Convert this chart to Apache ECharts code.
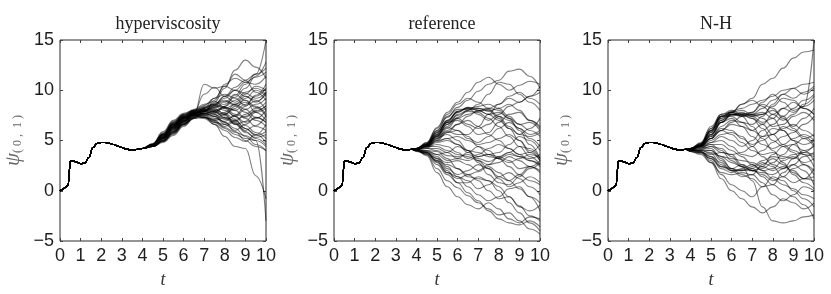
<!DOCTYPE html>
<html><head><meta charset="utf-8">
<script src="https://cdn.jsdelivr.net/npm/echarts@6/dist/echarts.min.js"></script>
<style>html,body{margin:0;padding:0;background:#fff}#c{width:831px;height:294px}</style>
</head><body><div id="c"></div>
<script>
// ---- data ----
const titles = ['hyperviscosity', 'reference', 'N-H'];
const xTicks = [0,1,2,3,4,5,6,7,8,9,10];
const yTicks = [-5,0,5,10,15];
// common early trajectory (all members coincide)
const prefixT = [0,0.1,0.2,0.3,0.4,0.45,0.5,0.6,0.8,1.0,1.2,1.4,1.6,1.8,2.0,2.2,2.4,2.6,2.8,3.0,3.2,3.4,3.6,3.8];
const prefixV = [0,0.1,0.25,0.4,0.6,2.0,2.95,3.0,2.85,2.7,2.75,3.3,4.3,4.7,4.8,4.8,4.72,4.6,4.45,4.3,4.15,4.08,4.08,4.12];
// ensemble tails, sampled at tailT
const tailT = [4,4.5,5,5.5,6,6.5,7,7.5,8,8.5,9,9.5,10];
const hyperTails = [
[4.2,4.5,5.2,6.2,7.0,7.6,8.0,8.5,9.2,10.0,10.8,11.3,11.8],
[4.2,4.6,5.6,6.6,7.4,7.8,7.6,7.0,6.3,5.8,5.5,5.0,4.4],
[4.2,4.4,5.0,5.8,6.7,7.4,8.2,9.2,10.4,11.6,11.0,9.8,9.0],
[4.2,4.7,5.8,6.9,7.6,7.9,7.7,7.4,7.8,8.6,9.0,8.4,7.6],
[4.2,4.5,5.3,6.4,7.3,7.9,8.4,8.6,8.2,7.4,6.5,5.8,5.2],
[4.2,4.6,5.4,6.1,6.9,7.8,9.6,10.3,9.4,8.8,9.6,10.4,10.0],
[4.2,4.4,4.9,5.7,6.6,7.3,7.9,8.8,10.2,12.0,13.0,12.3,11.2],
[4.2,4.5,5.1,6.0,6.9,7.6,7.5,6.9,6.4,6.9,7.6,8.2,8.8],
[4.2,4.6,5.5,6.5,7.2,7.5,7.3,7.0,7.3,7.0,6.2,5.5,5.9],
[4.2,4.5,5.2,6.3,7.2,7.7,8.0,8.3,8.6,9.3,10.2,11.4,12.8],
[4.2,4.7,5.9,7.0,7.7,8.0,7.9,7.4,6.6,6.0,6.6,7.3,6.8],
[4.2,4.4,4.8,5.5,6.4,7.2,7.9,8.5,8.9,8.5,7.8,7.0,6.4],
[4.2,4.5,5.3,6.3,7.0,7.5,7.7,7.9,8.3,8.0,7.2,6.4,6.0],
[4.2,4.6,5.5,6.6,7.4,8.0,8.5,9.2,9.6,9.2,8.5,8.9,9.6],
[4.2,4.5,5.2,6.1,6.8,7.4,7.2,6.6,6.0,5.3,4.9,5.6,6.6],
[4.2,4.6,5.6,6.8,7.6,8.1,8.6,8.9,8.3,7.6,7.3,7.9,8.5],
[4.2,4.4,5.0,5.9,6.7,7.3,7.7,7.4,6.8,6.2,5.4,4.6,4.0],
[4.2,4.5,5.4,6.4,7.3,7.9,8.1,7.9,7.6,8.2,9.2,10.0,9.4],
[4.2,4.6,5.7,6.7,7.4,7.7,7.5,7.7,8.4,9.5,10.6,11.6,12.2],
[4.2,4.5,5.1,5.9,6.8,7.6,8.3,8.0,7.2,6.6,6.9,7.8,8.2],
[4.2,4.4,4.9,5.6,6.5,7.2,7.6,7.9,8.2,8.6,9.4,9.0,8.0],
[4.2,4.6,5.5,6.5,7.3,7.8,7.9,7.6,7.1,7.4,8.1,8.6,9.2],
[4.2,4.5,5.3,6.4,7.3,7.8,8.0,7.6,6.8,5.9,5.0,4.4,4.0],
[4.2,4.6,5.6,6.6,7.2,7.4,7.8,9.0,10.6,11.2,10.8,10.6,11.4],
[4.2,4.5,5.2,6.2,7.1,7.7,8.2,8.7,9.0,8.6,8.1,7.3,6.8],
[4.2,4.4,5.0,5.8,6.6,7.2,7.3,7.1,7.6,8.4,8.8,8.3,7.4],
[4.2,4.6,5.4,6.4,7.2,7.6,7.3,6.8,6.6,7.0,6.2,5.6,4.8],
[4.2,4.5,5.3,6.3,7.1,7.6,7.4,6.6,5.4,4.4,4.2,1.5,-0.8],
[4.2,4.6,5.6,6.7,7.5,8.0,8.3,8.6,9.4,10.3,11.0,11.6,15.0],
[4.2,4.5,5.2,6.0,6.9,7.6,8.0,8.4,8.0,7.4,6.8,7.2,8.0],
[4.2,4.4,5.0,5.9,6.9,7.6,8.0,8.2,7.6,6.6,5.8,5.3,5.6],
[4.2,4.6,5.7,6.8,7.5,7.9,8.2,8.6,9.4,10.0,9.7,9.2,9.8],
[4.2,4.5,5.4,6.5,7.3,7.8,7.7,7.2,6.9,7.5,8.4,9.5,10.6],
[4.2,4.5,5.2,6.2,7.0,7.5,7.9,8.3,8.8,9.6,9.0,7.8,7.0],
[4.2,4.6,5.5,6.6,7.5,8.0,8.1,7.8,7.3,6.7,6.0,6.5,7.5],
[4.2,4.4,4.9,5.7,6.6,7.3,7.7,8.0,8.4,9.0,9.8,10.2,9.6],
[4.2,4.5,5.3,6.3,7.1,7.7,8.0,8.1,7.7,7.1,7.4,8.0,8.4],
[4.2,4.6,5.6,6.6,7.3,7.7,7.9,7.8,7.5,6.8,5.9,5.2,4.6],
[4.2,4.5,5.3,6.4,7.2,7.7,8.1,8.5,8.3,8.0,8.6,9.4,10.2],
[4.2,4.4,5.0,5.8,6.6,7.6,10.6,10.2,10.4,10.0,9.4,8.8,9.8],
[4.2,4.5,5.2,6.1,6.9,7.5,7.3,6.8,6.2,5.6,5.2,5.0,-3.0]
];
const refTails = [
[4.1,4.6,5.8,7.0,7.8,8.2,8.0,7.6,7.0,6.2,5.0,3.8,3.0],
[4.2,4.8,6.3,7.8,8.8,9.8,10.8,11.3,10.6,10.0,10.5,10.9,10.6],
[4.0,4.2,4.0,3.5,3.4,3.6,3.2,2.9,3.3,3.8,3.4,3.0,2.6],
[4.1,3.8,2.8,1.8,1.2,1.6,1.0,0.0,-0.8,-0.6,-1.5,-2.5,-3.0],
[4.2,4.5,5.5,6.6,7.6,8.0,8.2,8.1,7.4,6.4,5.6,5.4,5.8],
[4.0,3.6,2.2,1.0,0.3,-0.5,-1.2,-1.8,-2.4,-2.2,-3.0,-3.8,-4.3],
[4.1,4.4,5.0,5.2,4.6,3.8,3.4,3.6,3.2,2.8,3.2,3.6,3.3],
[4.2,4.7,6.0,7.3,8.3,9.0,9.9,10.6,11.0,11.9,12.1,11.4,10.2],
[4.0,3.7,3.0,2.6,2.2,1.6,1.9,2.4,1.8,1.0,0.2,-0.6,-1.2],
[4.1,4.6,5.6,6.3,6.0,5.2,4.8,5.4,6.2,6.8,6.2,5.6,6.0],
[4.2,4.5,5.4,6.6,7.5,7.9,7.8,7.2,6.4,5.4,4.4,3.4,2.6],
[4.0,3.9,3.4,2.4,1.4,0.4,-0.4,-1.0,-0.6,0.2,0.4,-0.6,-2.0],
[4.1,4.3,4.6,4.4,3.8,3.2,3.6,4.2,4.6,4.2,3.6,3.0,2.4],
[4.2,4.8,6.2,7.6,8.6,9.2,8.8,8.2,8.6,9.4,9.8,9.2,8.6],
[4.0,3.5,1.8,0.4,-0.6,-1.4,-1.8,-1.2,-1.8,-2.8,-3.2,-2.6,-2.8],
[4.1,4.5,5.3,5.6,5.0,4.0,3.0,2.6,2.8,3.4,3.0,2.4,1.8],
[4.2,4.6,5.7,7.0,7.9,8.3,8.2,7.9,8.2,8.6,8.0,7.0,6.2],
[3.9,3.8,3.2,2.2,1.6,2.0,2.6,2.2,1.2,0.4,0.8,1.4,0.8],
[4.1,4.4,5.0,5.8,6.6,7.0,6.4,5.6,5.0,4.2,3.6,3.8,4.6],
[4.2,4.7,5.9,6.8,7.0,6.4,5.6,5.8,6.8,7.6,7.8,7.0,6.4],
[4.0,4.0,3.6,3.0,3.2,3.8,4.4,4.0,3.2,2.4,1.6,1.0,0.6],
[4.1,4.5,5.2,6.2,7.2,7.6,7.9,8.2,8.0,7.2,6.0,4.6,3.2],
[4.2,4.6,5.4,5.9,5.6,5.6,6.4,7.6,8.6,9.2,8.8,9.4,10.4],
[4.0,3.8,3.0,2.0,0.8,-0.2,-1.0,-2.0,-2.8,-3.2,-3.4,-3.0,-3.6],
[4.1,4.2,4.2,3.8,3.2,3.0,3.4,3.6,3.4,3.8,4.4,4.2,3.2],
[4.2,4.6,5.5,6.8,7.9,8.2,7.6,7.0,7.6,8.4,8.8,9.4,9.8],
[4.0,3.9,3.6,3.8,4.4,4.0,2.8,1.6,0.8,0.6,1.4,2.2,2.8],
[4.1,4.4,5.1,5.8,6.0,5.4,4.4,3.6,3.8,4.6,5.4,5.0,4.0],
[4.2,4.7,6.0,7.4,8.1,8.1,8.4,8.6,8.2,7.4,6.6,6.0,5.4],
[3.9,3.7,2.9,1.8,1.4,1.0,0.2,0.6,1.4,1.8,1.2,0.4,-0.4],
[4.1,4.3,4.8,5.0,4.6,4.0,3.8,3.4,3.2,3.6,3.4,3.2,3.6],
[4.2,4.5,5.6,6.9,7.8,8.3,8.0,7.6,7.8,7.2,6.6,6.8,6.0],
[4.0,4.0,3.9,3.2,2.2,1.4,1.2,1.0,0.4,-0.6,-1.6,-2.0,-1.4],
[4.1,4.6,5.8,6.8,7.2,6.6,6.2,6.6,7.4,7.0,6.2,5.2,4.4],
[4.2,4.4,4.9,5.2,5.4,5.0,4.6,4.8,5.2,5.6,5.0,4.0,3.0],
[4.0,3.8,3.2,2.8,3.0,2.6,2.0,2.6,3.4,3.0,2.2,2.4,3.0],
[4.1,4.5,5.4,6.4,7.3,8.0,8.6,9.6,10.8,10.6,9.6,8.8,8.0],
[4.2,4.4,4.4,4.0,3.6,3.4,3.0,2.2,1.4,1.0,1.6,2.4,2.0],
[4.0,3.6,2.6,1.6,0.8,0.8,1.4,1.0,0.0,-1.2,-2.2,-3.2,-4.0],
[4.1,4.4,5.2,6.0,6.6,7.4,8.0,8.0,7.2,6.2,5.6,6.2,7.2]
];
const nhTails = [
[4.1,4.6,5.9,7.2,7.6,7.5,7.4,7.6,8.4,9.2,9.0,8.2,7.6],
[4.2,4.8,6.4,7.6,7.8,8.6,9.2,10.6,11.2,12.2,13.2,13.8,14.0],
[4.0,3.9,3.4,2.4,2.0,2.1,2.0,1.6,1.0,1.4,2.2,2.6,2.0],
[4.1,4.4,5.2,6.8,7.6,7.5,7.2,6.6,5.6,4.6,4.0,3.6,3.4],
[3.9,3.6,2.8,1.2,0.0,-0.8,-1.6,-2.2,-1.6,-0.8,-1.2,-1.8,-1.2],
[4.1,4.5,5.6,7.0,7.8,8.0,7.6,8.2,9.0,9.6,10.2,10.6,10.8],
[4.0,4.0,3.7,2.6,2.0,2.0,2.4,3.0,3.4,3.2,3.6,3.8,3.6],
[4.1,4.6,6.0,7.4,7.8,7.4,6.4,5.2,4.0,2.8,1.6,0.8,0.2],
[4.2,4.4,4.6,4.0,3.0,2.4,1.0,-1.6,-3.0,-3.2,-3.0,-2.6,-2.4],
[4.0,4.2,4.8,5.4,5.0,4.4,5.0,6.0,6.6,7.4,8.2,9.0,9.6],
[4.1,4.7,6.2,7.6,8.0,7.6,7.6,7.8,7.2,6.0,5.0,4.6,5.0],
[3.9,3.7,3.2,2.4,2.2,2.6,2.2,1.4,0.6,0.0,-0.6,-1.4,-2.8],
[4.2,4.5,5.4,6.2,6.0,5.2,4.6,5.0,5.6,6.4,6.0,5.2,4.4],
[4.0,4.0,4.0,3.4,2.8,2.4,2.0,2.2,2.8,3.6,4.6,5.2,5.6],
[4.1,4.5,5.8,7.2,7.8,8.6,9.0,8.4,7.6,7.0,7.6,8.6,9.4],
[4.2,4.3,4.2,3.2,2.2,1.6,1.2,0.4,0.6,1.8,2.6,2.0,0.6],
[4.0,4.4,5.2,6.0,6.8,7.4,7.6,7.2,6.4,6.6,7.4,7.8,7.0],
[4.1,3.9,3.0,1.6,0.6,0.0,-0.6,0.4,1.4,1.0,0.0,-0.8,-1.6],
[4.2,4.6,6.0,7.4,7.4,6.8,6.6,7.4,8.6,9.6,9.2,9.8,10.4],
[4.0,4.1,4.4,4.2,3.4,2.4,2.0,2.4,3.6,4.4,3.8,2.6,1.6],
[4.1,4.5,5.6,6.8,7.2,6.4,5.4,4.6,4.2,4.6,5.2,5.6,5.0],
[3.9,3.8,3.6,3.8,3.6,2.6,2.0,1.8,1.6,2.2,3.2,4.0,4.4],
[4.2,4.7,6.2,7.4,7.8,7.6,7.8,8.8,9.6,8.8,8.0,8.4,9.0],
[4.0,3.8,2.8,1.8,1.6,1.8,1.6,0.8,-0.4,-1.0,-0.4,0.4,0.0],
[4.1,4.4,5.0,5.6,5.8,5.4,4.4,3.4,2.6,2.2,2.6,3.4,3.8],
[4.2,4.5,5.6,6.8,7.6,7.8,7.4,6.8,7.2,8.2,8.8,8.2,7.6],
[4.0,4.1,4.0,3.0,2.2,2.0,2.2,2.8,2.4,1.4,0.8,1.2,2.2],
[4.1,4.6,5.8,7.0,7.6,7.6,7.2,6.2,5.0,4.4,4.6,4.0,3.0],
[4.2,4.4,4.8,5.0,4.4,3.6,3.4,4.0,4.8,5.4,5.8,6.6,7.4],
[3.9,3.8,3.4,2.8,2.0,1.4,1.6,2.6,3.2,2.6,1.8,1.2,1.0],
[4.1,4.5,5.5,6.8,7.5,7.7,7.5,7.6,8.0,7.4,6.2,5.4,4.6],
[4.0,4.2,4.4,3.8,3.6,3.8,4.4,5.4,6.2,6.0,5.0,3.6,2.4],
[4.2,4.7,6.0,7.4,7.9,8.2,8.6,9.0,9.4,10.0,10.2,9.6,10.2],
[4.0,3.9,3.2,2.2,1.8,2.2,2.6,2.0,1.2,0.6,0.2,-0.4,-0.8],
[4.1,4.4,5.2,6.4,7.0,6.8,6.0,5.4,5.6,6.2,6.6,6.0,5.4],
[4.2,4.5,5.4,6.0,5.6,4.8,4.0,3.6,3.8,3.4,3.2,3.8,4.6],
[4.0,4.0,3.8,3.4,3.2,3.0,2.8,2.4,2.0,2.4,2.0,1.2,1.4],
[4.1,4.6,6.0,7.4,7.6,7.4,7.8,8.6,8.2,7.2,6.4,7.2,8.2],
[4.2,4.3,4.6,4.6,4.0,3.4,2.6,2.0,2.2,3.0,3.4,2.8,3.2],
[4.0,4.4,5.2,6.0,6.6,6.4,6.0,6.6,7.6,8.2,7.8,8.4,15.0]
];
const panelTails = [hyperTails, refTails, nhTails];

// ---- layout / styles ----
const lefts = [60, 334, 608];
const W = 206, H = 206, TOP = 40;
const tickFont = 'Liberation Sans, Arial, sans-serif';
const serif = 'Liberation Serif, Times New Roman, serif';
const fmtMinus = v => String(v).replace('-', '\u2212');

const grid = [], xAxis = [], yAxis = [], series = [], title = [];
lefts.forEach((L, i) => {
  grid.push({left: L, top: TOP, width: W, height: H, show: true, borderColor: '#2a2a2a', borderWidth: 1, backgroundColor: 'transparent'});
  title.push({text: titles[i], left: L + W / 2, top: 10, textAlign: 'center',
    textStyle: {fontFamily: serif, fontSize: 18, fontWeight: 'normal', color: '#222'}});
  const xBase = {type: 'value', gridIndex: i, min: xTicks[0], max: xTicks[xTicks.length - 1], interval: 1,
    splitLine: {show: false}, axisLine: {show: false, onZero: false}};
  xAxis.push(Object.assign({}, xBase, {position: 'bottom',
    axisTick: {show: true, inside: true, length: 3, lineStyle: {color: '#444'}},
    axisLabel: {show: true, margin: 6, fontFamily: tickFont, fontSize: 18, color: '#1e1e1e'},
    name: 't', nameLocation: 'middle', nameGap: 30,
    nameTextStyle: {fontFamily: serif, fontStyle: 'italic', fontSize: 18, color: '#333'}}));
  xAxis.push(Object.assign({}, xBase, {position: 'top',
    axisTick: {show: true, inside: true, length: 3, lineStyle: {color: '#444'}},
    axisLabel: {show: false}}));
  const yBase = {type: 'value', gridIndex: i, min: yTicks[0], max: yTicks[yTicks.length - 1], interval: 5,
    splitLine: {show: false}, axisLine: {show: false, onZero: false}};
  yAxis.push(Object.assign({}, yBase, {position: 'left',
    axisTick: {show: true, inside: true, length: 3, lineStyle: {color: '#444'}},
    axisLabel: {show: true, margin: 6, fontFamily: tickFont, fontSize: 18, color: '#1e1e1e', formatter: fmtMinus},
    name: '{a|ψ}{b|( 0 ,  1 )}', nameLocation: 'middle', nameGap: 36, nameRotate: 90,
    nameTextStyle: {rich: {
      a: {fontFamily: serif, fontStyle: 'italic', fontSize: 21, color: '#666'},
      b: {fontFamily: serif, fontSize: 12, color: '#666', padding: [9, 0, 0, 0]}}}}));
  yAxis.push(Object.assign({}, yBase, {position: 'right',
    axisTick: {show: true, inside: true, length: 3, lineStyle: {color: '#444'}},
    axisLabel: {show: false}}));

  panelTails[i].forEach(tail => {
    const data = [];
    prefixT.forEach((t, k) => data.push([t, prefixV[k]]));
    tailT.forEach((t, k) => data.push([t, tail[k]]));
    series.push({type: 'line', xAxisIndex: 2 * i, yAxisIndex: 2 * i, data,
      showSymbol: false, smooth: 0.45, smoothMonotone: 'x', silent: true,
      lineStyle: {width: 1.1, color: 'rgba(0,0,0,0.5)'}});
  });
});

const chart = echarts.init(document.getElementById('c'), null, {renderer: 'canvas'});
chart.setOption({animation: false, backgroundColor: '#fff', title, grid, xAxis, yAxis, series});
</script>
</body></html>
